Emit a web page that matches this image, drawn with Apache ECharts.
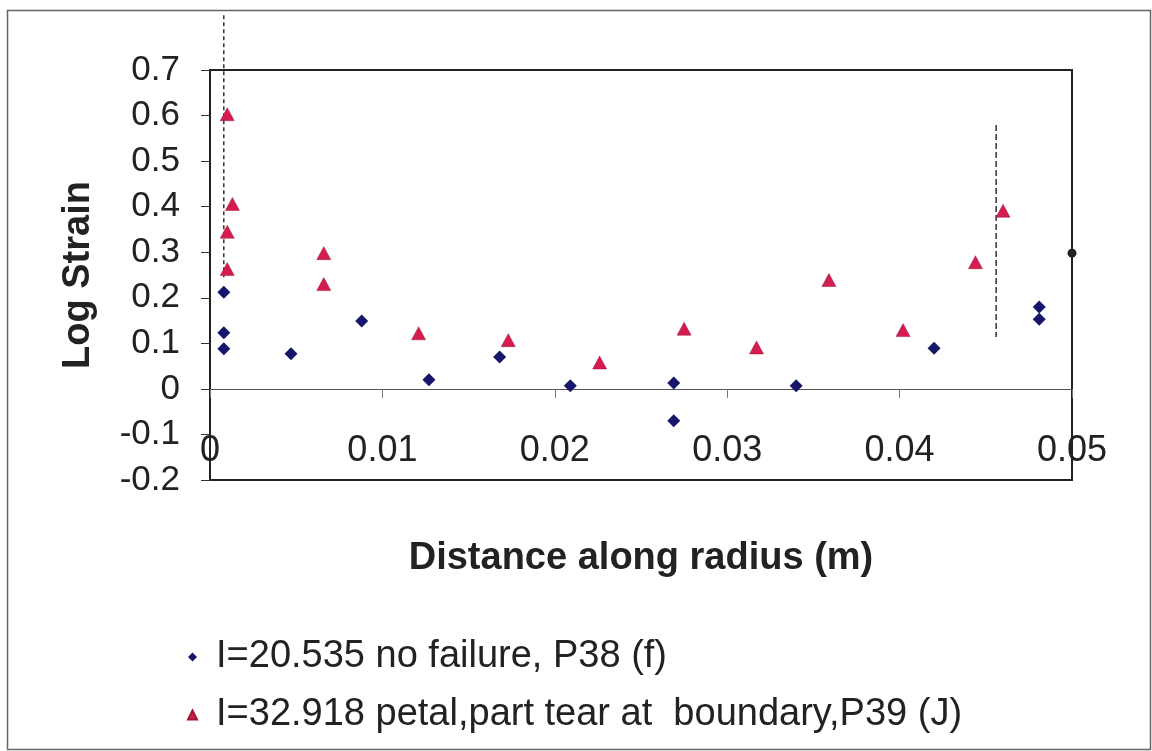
<!DOCTYPE html>
<html>
<head>
<meta charset="utf-8">
<script src="https://cdn.jsdelivr.net/npm/echarts@6/dist/echarts.min.js"></script>
<style>
html,body{margin:0;padding:0;background:#fff;}
#chart{width:1152px;height:751px;}
</style>
</head>
<body>
<div id="chart"></div>
<script>
// ---- data ----
const seriesNames = ['I=20.535 no failure, P38 (f)', 'I=32.918 petal,part tear at  boundary,P39 (J)'];
const p38X = [0.0008, 0.0008, 0.0008, 0.0047, 0.0088, 0.0127, 0.0168, 0.0209, 0.0269, 0.0269, 0.0340, 0.0420, 0.0481, 0.0481];
const p38Y = [0.212, 0.123, 0.088, 0.077, 0.149, 0.020, 0.070, 0.007, 0.013, -0.070, 0.007, 0.089, 0.180, 0.153];
const p39X = [0.0010, 0.0013, 0.0010, 0.0010, 0.0066, 0.0066, 0.0121, 0.0173, 0.0226, 0.0275, 0.0317, 0.0359, 0.0402, 0.0444, 0.0460];
const p39Y = [0.603, 0.406, 0.345, 0.263, 0.298, 0.230, 0.122, 0.107, 0.058, 0.132, 0.091, 0.239, 0.129, 0.278, 0.391];
const edgeX = [0.05];
const edgeY = [0.298];
const guide1X = [0.0008, 0.0008];
const guide1Y = [0.82, 0.245];
const guide2X = [0.0456, 0.0456];
const guide2Y = [0.579, 0.114];
const xTicks = {min: 0, max: 0.05, step: 0.01};
const yTicks = {min: -0.2, max: 0.7, step: 0.1};

const zip = (xs, ys) => xs.map((x, i) => [x, ys[i]]);
const FONT = "'Liberation Sans', Arial, sans-serif";

const chart = echarts.init(document.getElementById('chart'));
chart.setOption({
  backgroundColor: '#fff',
  animation: false,
  graphic: [{
    type: 'rect', left: 5, top: 8, shape: {width: 1143, height: 739},
    style: {fill: 'none', stroke: '#666', lineWidth: 1.5}, silent: true
  }],
  grid: {left: 210, right: 80, top: 70, bottom: 271, show: true, borderColor: '#222', borderWidth: 2, backgroundColor: 'transparent'},
  legend: {
    data: [
      {name: seriesNames[0], icon: 'diamond'},
      {name: seriesNames[1], icon: 'triangle'}
    ],
    orient: 'vertical', left: 182, top: 633,
    itemWidth: 9, itemHeight: 9, itemGap: 20,
    textStyle: {fontFamily: FONT, fontSize: 38, color: '#222', padding: [0, 0, 0, 14], lineHeight: 38}
  },
  xAxis: {
    type: 'value', min: xTicks.min, max: xTicks.max, interval: xTicks.step,
    name: 'Distance along radius (m)', nameLocation: 'middle', nameGap: 60,
    nameTextStyle: {fontFamily: FONT, fontSize: 38, fontWeight: 'bold', color: '#222'},
    axisLine: {onZero: true, lineStyle: {color: '#555', width: 1}},
    axisTick: {show: true, length: 9, lineStyle: {color: '#777'}},
    axisLabel: {fontFamily: FONT, fontSize: 36, color: '#222', margin: -47},
    splitLine: {show: false}
  },
  yAxis: {
    type: 'value', min: yTicks.min, max: yTicks.max, interval: yTicks.step,
    name: 'Log Strain', nameLocation: 'middle', nameGap: 112,
    nameTextStyle: {fontFamily: FONT, fontSize: 38, fontWeight: 'bold', color: '#222'},
    axisLine: {show: true, lineStyle: {color: '#222', width: 2}},
    axisTick: {show: true, length: 9, lineStyle: {color: '#333'}},
    axisLabel: {fontFamily: FONT, fontSize: 35, color: '#222', margin: 30,
      formatter: v => String(Math.round(v * 10) / 10)},
    splitLine: {show: false}
  },
  series: [
    {
      name: seriesNames[0], type: 'scatter', symbol: 'diamond', symbolSize: 13,
      itemStyle: {color: '#16176a', opacity: 1}, data: zip(p38X, p38Y), z: 5
    },
    {
      name: seriesNames[1], type: 'scatter', symbol: 'triangle', symbolSize: [14, 13],
      itemStyle: {color: '#d41c50', borderColor: '#a01838', borderWidth: 0.5, opacity: 1}, data: zip(p39X, p39Y), z: 4
    },
    {
      name: 'edge', type: 'scatter', symbol: 'circle', symbolSize: 9,
      itemStyle: {color: '#222', opacity: 1}, data: zip(edgeX, edgeY), clip: false, z: 6
    },
    {
      name: 'guide1', type: 'line', data: zip(guide1X, guide1Y), showSymbol: false, symbol: 'none',
      clip: false, silent: true, lineStyle: {color: '#333', width: 1.5, type: [4, 3]}, z: 3
    },
    {
      name: 'guide2', type: 'line', data: zip(guide2X, guide2Y), showSymbol: false, symbol: 'none',
      clip: false, silent: true, lineStyle: {color: '#333', width: 1.5, type: [6, 3]}, z: 3
    }
  ]
});
</script>
</body>
</html>
